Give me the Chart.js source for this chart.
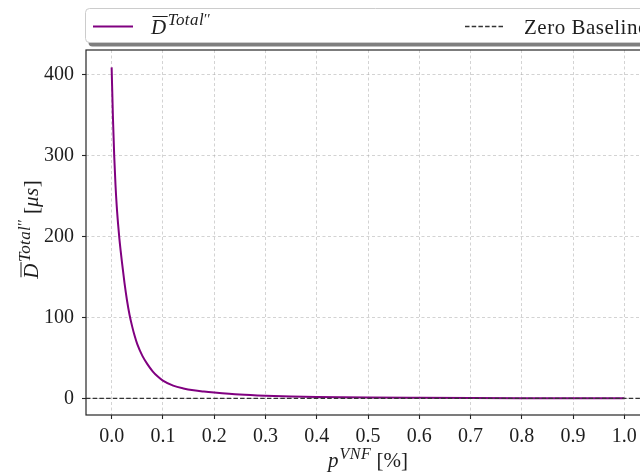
<!DOCTYPE html>
<html>
<head>
<meta charset="utf-8">
<script src="https://cdn.jsdelivr.net/npm/chart.js@4.4.1/dist/chart.umd.min.js"></script>
<style>
  html, body { margin: 0; padding: 0; background: #fff; overflow: hidden; width: 640px; height: 475px; }
  #wrap { position: absolute; left: 0; top: 0; width: 680px; height: 475px; }
</style>
</head>
<body>
<div id="wrap"><canvas id="c" width="680" height="475"></canvas></div>
<script>
// ---- data ----
const pValues = [0.000, 0.0025, 0.005, 0.0075, 0.010, 0.0125, 0.015, 0.0175, 0.020, 0.025,
                 0.030, 0.035, 0.040, 0.045, 0.050, 0.060, 0.070, 0.080, 0.090, 0.100,
                 0.120, 0.140, 0.160, 0.180, 0.200, 0.250, 0.300, 0.350, 0.400, 0.450,
                 0.500, 0.600, 0.700, 0.800, 0.900, 1.000];
const delayValues = [409, 348, 300, 264, 237, 216, 198, 183, 169, 143,
                     121, 103, 89, 77, 67, 52.5, 42, 33.5, 27, 22,
                     15.8, 12.3, 10, 8.5, 7.3, 4.8, 3.3, 2.3, 1.7, 1.3,
                     1.0, 0.7, 0.5, 0.35, 0.25, 0.2];
const baselineP = [-0.05, 1.05];
const baselineValues = [0, 0];
const xTicks = [0.0, 0.1, 0.2, 0.3, 0.4, 0.5, 0.6, 0.7, 0.8, 0.9, 1.0];
const yTicks = [0, 100, 200, 300, 400];
const seriesLabels = ["D\u0305Total\u2033", "Zero Baseline"];
const xLimits = [-0.05, 1.05];
const yLimits = [-20.5, 430.5];

const FONT = '"Liberation Serif", "DejaVu Serif", serif';
const TEXT = '#1e1e1e';
const MAIN = 21, SUP = 16;

function segFont(s) {
  return (s.it ? 'italic ' : '') + (s.size || (s.sup ? SUP : MAIN)) + 'px ' + FONT;
}
function richWidth(ctx, segs) {
  let w = 0;
  for (const s of segs) {
    ctx.font = segFont(s);
    ctx.letterSpacing = (s.ls || 0) + 'px';
    w += ctx.measureText(s.t).width + (s.kern || 0);
  }
  ctx.letterSpacing = '0px';
  return w;
}
function drawRich(ctx, segs, x, y, align) {
  const total = richWidth(ctx, segs);
  let cx = align === 'center' ? x - total / 2 : x;
  ctx.fillStyle = TEXT;
  ctx.textBaseline = 'alphabetic';
  ctx.textAlign = 'left';
  for (const s of segs) {
    ctx.font = segFont(s);
    ctx.letterSpacing = (s.ls || 0) + 'px';
    const w = ctx.measureText(s.t).width;
    const dy = s.sup ? -(s.raise || 8.5) : 0;
    ctx.fillText(s.t, cx, y + dy);
    if (s.ol) {
      ctx.save();
      ctx.strokeStyle = TEXT;
      ctx.lineWidth = 1;
      ctx.beginPath();
      ctx.moveTo(cx + 1.5, y - 17);
      ctx.lineTo(cx + w + 1.5, y - 17);
      ctx.stroke();
      ctx.restore();
    }
    cx += w + (s.kern || 0);
  }
  ctx.letterSpacing = '0px';
}
const dSegs = [
  {t: 'D', it: true, ol: true, kern: 1.5},
  {t: 'Total', it: true, sup: true, size: 17, ls: 0.4},
  {t: '\u2032\u2032', sup: true, size: 15, raise: 10}
];
const yTitleSegs = dSegs.concat([{t: ' ['}, {t: '\u03bcs', it: true, ls: 0.5}, {t: ']'}]);
const xTitleSegs = [{t: 'p', it: true, kern: 1}, {t: 'VNF', it: true, sup: true, ls: 0.5}, {t: ' [%]'}];

const decorPlugin = {
  id: 'decor',
  afterDatasetsDraw(chart) {
    const ctx = chart.ctx;
    const a = chart.chartArea;
    ctx.save();
    ctx.strokeStyle = '#262626';
    ctx.lineWidth = 1.2;
    ctx.strokeRect(a.left, a.top, a.right - a.left, a.bottom - a.top);
    ctx.restore();
  },
  afterDraw(chart) {
    const ctx = chart.ctx;
    const a = chart.chartArea;
    ctx.save();
    // axis titles
    drawRich(ctx, xTitleSegs, (a.left + a.right) / 2, 467, 'center');
    ctx.save();
    ctx.translate(38, (a.top + a.bottom) / 2 - 3);
    ctx.rotate(-Math.PI / 2);
    drawRich(ctx, yTitleSegs, 0, 0, 'center');
    ctx.restore();

    // legend box with shadow
    const bx = a.left - 0.5, by = 8.5, bw = 580, bh = 34;
    ctx.fillStyle = 'rgba(0,0,0,0.5)';
    ctx.beginPath();
    ctx.roundRect(bx + 3, by + 4, bw, bh, 4);
    ctx.fill();
    ctx.fillStyle = '#ffffff';
    ctx.beginPath();
    ctx.roundRect(bx, by, bw, bh, 4);
    ctx.fill();
    ctx.strokeStyle = '#cccccc';
    ctx.lineWidth = 1;
    ctx.stroke();

    const ly = 26.5;
    const curve = chart.data.datasets[1];
    ctx.strokeStyle = curve.borderColor;
    ctx.lineWidth = curve.borderWidth;
    ctx.beginPath();
    ctx.moveTo(93, ly); ctx.lineTo(133, ly);
    ctx.stroke();
    drawRich(ctx, dSegs, 151, 33.5, 'left');

    const base = chart.data.datasets[0];
    ctx.strokeStyle = base.borderColor;
    ctx.lineWidth = base.borderWidth;
    ctx.setLineDash(base.borderDash);
    ctx.beginPath();
    ctx.moveTo(465, ly); ctx.lineTo(505, ly);
    ctx.stroke();
    ctx.setLineDash([]);
    ctx.font = MAIN + 'px ' + FONT;
    ctx.letterSpacing = '0.5px';
    ctx.fillStyle = TEXT;
    ctx.textAlign = 'left';
    ctx.textBaseline = 'alphabetic';
    ctx.fillText(seriesLabels[1], 524, 33.5);
    ctx.letterSpacing = '0px';
    ctx.restore();
  }
};

const gridColor = 'rgba(170,170,170,0.65)';

new Chart(document.getElementById('c'), {
  type: 'line',
  data: {
    datasets: [
      {
        label: seriesLabels[1],
        data: baselineP.map((p, i) => ({x: p, y: baselineValues[i]})),
        borderColor: '#333333',
        borderWidth: 1.3,
        borderDash: [4.5, 2.2],
        pointRadius: 0,
        fill: false,
        order: 0
      },
      {
        label: seriesLabels[0],
        data: pValues.map((p, i) => ({x: p, y: delayValues[i]})),
        borderColor: '#800080',
        borderWidth: 2,
        pointRadius: 0,
        fill: false,
        cubicInterpolationMode: 'monotone',
        order: 1
      }
    ]
  },
  options: {
    responsive: false,
    animation: false,
    events: [],
    layout: { padding: { left: 0, top: 50, right: 30, bottom: 0 } },
    plugins: { legend: { display: false }, tooltip: { enabled: false } },
    scales: {
      x: {
        type: 'linear',
        min: xLimits[0],
        max: xLimits[1],
        afterBuildTicks(scale) { scale.ticks = xTicks.map(v => ({value: v})); },
        afterFit(scale) { scale.height = 60; },
        ticks: {
          font: { family: FONT, size: 20 },
          color: TEXT,
          padding: 6,
          maxRotation: 0,
          autoSkip: false,
          callback: v => Number(v).toFixed(1)
        },
        grid: {
          color: gridColor,
          lineWidth: 0.8,
          tickLength: 4,
          tickColor: '#262626',
          tickWidth: 1.1,
          tickBorderDash: [20, 0]
        },
        border: { display: false, dash: [3, 2.5] }
      },
      y: {
        type: 'linear',
        min: yLimits[0],
        max: yLimits[1],
        afterBuildTicks(scale) { scale.ticks = yTicks.map(v => ({value: v})); },
        afterFit(scale) { scale.width = 86; },
        ticks: {
          font: { family: FONT, size: 20 },
          color: TEXT,
          padding: 8,
          autoSkip: false,
          callback: v => String(v)
        },
        grid: {
          color: gridColor,
          lineWidth: 0.8,
          tickLength: 4,
          tickColor: '#262626',
          tickWidth: 1.1,
          tickBorderDash: [20, 0]
        },
        border: { display: false, dash: [3, 2.5] }
      }
    }
  },
  plugins: [decorPlugin]
});
</script>
</body>
</html>
